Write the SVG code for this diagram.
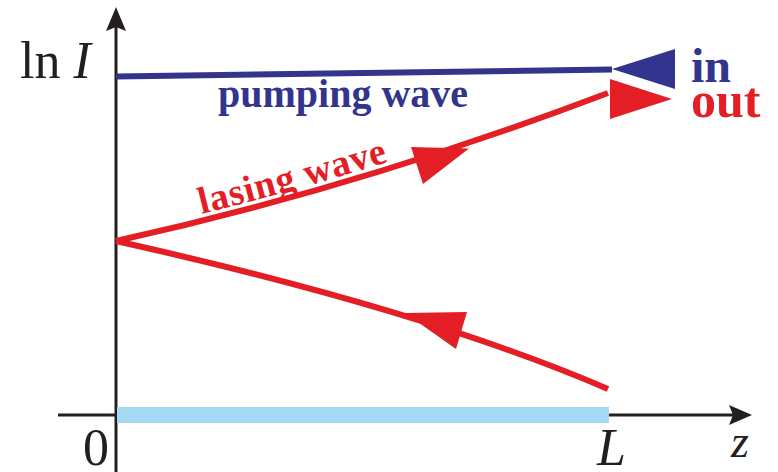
<svg xmlns="http://www.w3.org/2000/svg" width="778" height="472" viewBox="0 0 778 472">
<style>
.ax{stroke:#231f20;stroke-width:3;fill:none}
.axh{fill:#231f20}
.red{stroke:#e31e24;stroke-width:6;fill:none}
.redf{fill:#e31e24}
.blue{stroke:#33348e;stroke-width:6;fill:none}
.bluef{fill:#33348e}
.lab{font-family:"Liberation Serif","Times New Roman",serif}
.b{font-weight:bold}
.i{font-style:italic}
</style>
<defs>
<path id="lp" d="M116,234 Q359,180.5 608,86"/>
</defs>
<g id="axes">
<line class="ax" x1="116" y1="472" x2="116" y2="26"/>
<path class="axh" d="M116,7 L126,31 L116,27 L106,31 Z"/>
<line class="ax" x1="58" y1="415" x2="734" y2="415"/>
<path class="axh" d="M752,415 L729,405 L733,415 L729,425 Z"/>
</g>
<g id="medium">
<rect x="117" y="407" width="492" height="16" fill="#a3d9f5"/>
</g>
<g id="connectors">
<g id="pumping">
<line class="blue" x1="116" y1="76.5" x2="612" y2="69.5"/>
<polygon class="bluef" points="612,69 675,49 675,89"/>
</g>
<g id="lasing-forward">
<path class="red" d="M116,241 Q359,187.5 608,93"/>
<polygon class="redf" points="411,147 423,184 469,148.5"/>
<polygon class="redf" points="610,79 610,119 672,99"/>
</g>
<g id="lasing-backward">
<path class="red" d="M608,389 Q425,310 116,241"/>
<polygon class="redf" points="405,313 467,312 456,349"/>
</g>
</g>
<g id="labels">
<text class="lab" x="20" y="78" font-size="52" fill="#231f20">ln <tspan class="i">I</tspan></text>
<text class="lab" x="83" y="465" font-size="52" fill="#231f20">0</text>
<text class="lab i" x="597" y="465" font-size="52" fill="#231f20">L</text>
<text class="lab i" x="731" y="457" font-size="46" fill="#231f20">z</text>
<text class="lab b" x="218" y="107" font-size="40" fill="#33348e">pumping wave</text>
<text class="lab b" x="691" y="82" font-size="48" fill="#33348e">in</text>
<text class="lab b" x="691" y="117" font-size="50" fill="#e31e24">out</text>
<text class="lab b" font-size="38" fill="#e31e24"><textPath href="#lp" startOffset="88" textLength="194" lengthAdjust="spacing">lasing wave</textPath></text>
</g>
</svg>
